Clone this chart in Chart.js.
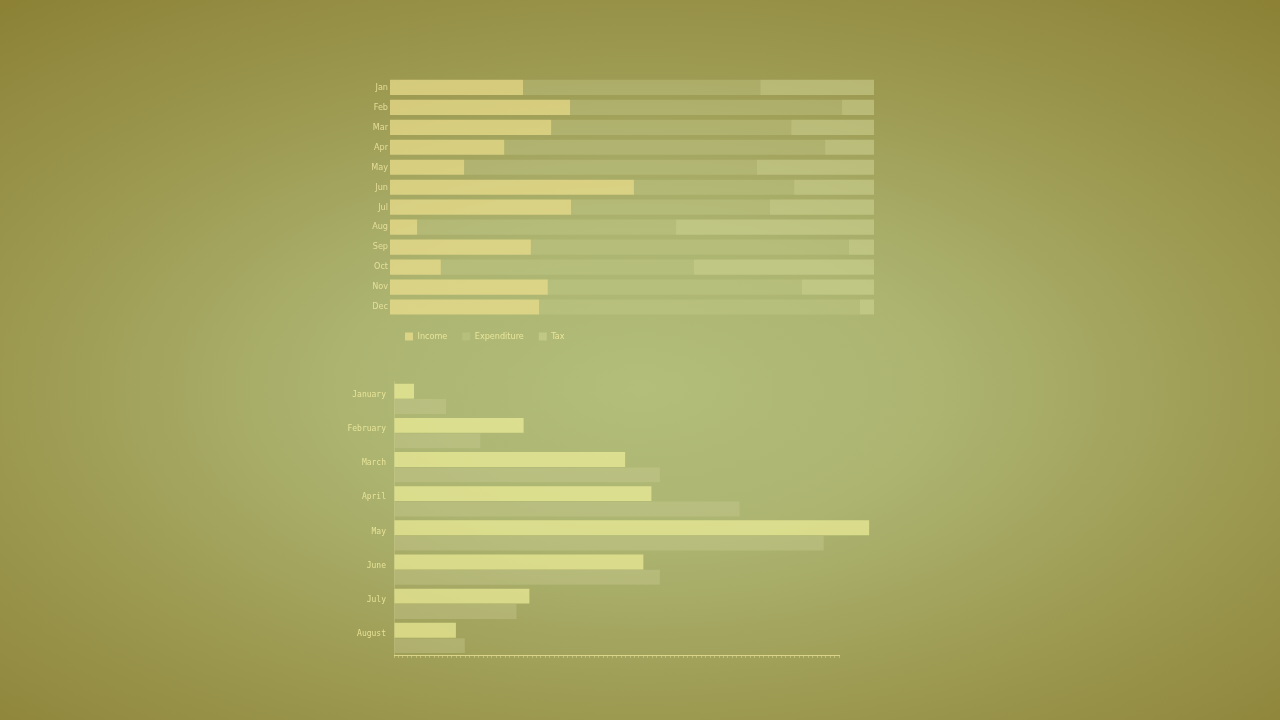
<!DOCTYPE html>
<html>
<head>
<meta charset="utf-8">
<title>Income, expenditure and tax</title>
<script src="https://cdn.jsdelivr.net/npm/chart.js@4.4.1/dist/chart.umd.min.js"></script>
<style>
  html, body {
    margin: 0;
    padding: 0;
    width: 1280px;
    height: 720px;
    overflow: hidden;
  }
  body {
    background: radial-gradient(ellipse 78% 72% at 50% 54%, #b2be7a 0%, #acb470 30%, #9d9a52 62%, #8b8034 100%);
  }
  .chart-box {
    position: absolute;
  }
  #shareBox {
    left: 360px;
    top: 70px;
    width: 520px;
    height: 281px;
  }
  #monthBox {
    left: 340px;
    top: 369px;
    width: 540px;
    height: 301px;
  }
</style>
</head>
<body>
<div class="chart-box" id="shareBox"><canvas id="shareChart"></canvas></div>
<div class="chart-box" id="monthBox"><canvas id="monthChart"></canvas></div>

<script>
// --- Data: top chart (share of each month, stacked to 100) ---
const shortMonths = ['Jan', 'Feb', 'Mar', 'Apr', 'May', 'Jun', 'Jul', 'Aug', 'Sep', 'Oct', 'Nov', 'Dec'];
const incomeShare = [27.5, 37.2, 33.3, 23.6, 15.3, 50.4, 37.4, 5.6, 29.1, 10.5, 32.6, 30.8];
const expenditureShare = [49.0, 56.2, 49.6, 66.3, 60.5, 33.1, 41.1, 53.5, 65.7, 52.3, 52.5, 66.3];
const taxShare = [23.5, 6.6, 17.1, 10.1, 24.2, 16.5, 21.5, 40.9, 5.2, 37.2, 14.9, 2.9];

// --- Data: bottom chart (income vs expenditure, Jan - Aug) ---
const longMonths = ['January', 'February', 'March', 'April', 'May', 'June', 'July', 'August'];
const incomeValues = [4.5, 29.1, 51.9, 57.8, 106.7, 56.0, 30.4, 13.9];
const expenditureValues = [11.7, 19.4, 59.7, 77.6, 96.5, 59.7, 27.5, 15.9];

document.addEventListener('DOMContentLoaded', () => {
  Chart.defaults.animation = false;
  Chart.defaults.responsive = true;
  Chart.defaults.maintainAspectRatio = false;

  const labelColor = 'rgba(242, 236, 160, 0.85)';
  const condensed = "'DejaVu Sans Condensed', 'Liberation Sans Narrow', 'DejaVu Sans', sans-serif";
  const mono = "'DejaVu Sans Mono', 'Liberation Mono', monospace";

  // --- Stacked share chart ---
  new Chart(document.getElementById('shareChart'), {
    type: 'bar',
    data: {
      labels: shortMonths,
      datasets: [
        {
          label: 'Income',
          data: incomeShare,
          backgroundColor: 'rgba(238, 224, 142, 0.7)'
        },
        {
          label: 'Expenditure',
          data: expenditureShare,
          backgroundColor: 'rgba(200, 206, 140, 0.36)'
        },
        {
          label: 'Tax',
          data: taxShare,
          backgroundColor: 'rgba(212, 216, 152, 0.5)'
        }
      ]
    },
    options: {
      indexAxis: 'y',
      layout: {
        padding: { top: 5.5, right: 6, left: 0, bottom: 0 }
      },
      datasets: {
        bar: {
          barPercentage: 1,
          categoryPercentage: 0.76
        }
      },
      plugins: {
        legend: {
          position: 'bottom',
          align: 'start',
          fullSize: false,
          labels: {
            boxWidth: 8,
            boxHeight: 8,
            padding: 15,
            color: labelColor,
            font: { family: condensed, size: 9 }
          }
        },
        tooltip: { enabled: false }
      },
      scales: {
        x: {
          display: false,
          stacked: true,
          min: 0,
          max: 100
        },
        y: {
          stacked: true,
          grid: { display: false, drawTicks: false },
          border: { display: false },
          ticks: {
            color: 'rgba(240, 230, 162, 0.85)',
            padding: 2,
            font: { family: condensed, size: 9 }
          },
          afterFit: scale => { scale.width = 30; }
        }
      }
    }
  });

  // --- Income vs expenditure chart ---
  new Chart(document.getElementById('monthChart'), {
    type: 'bar',
    data: {
      labels: longMonths,
      datasets: [
        {
          label: 'Income',
          data: incomeValues,
          backgroundColor: 'rgba(240, 240, 155, 0.68)',
          clip: false
        },
        {
          label: 'Expenditure',
          data: expenditureValues,
          backgroundColor: 'rgba(205, 205, 150, 0.36)',
          clip: false
        }
      ]
    },
    options: {
      indexAxis: 'y',
      layout: {
        padding: { top: 7, right: 40.7, left: 0, bottom: 11 }
      },
      datasets: {
        bar: {
          barPercentage: 0.97,
          categoryPercentage: 0.9
        }
      },
      plugins: {
        legend: { display: false },
        tooltip: { enabled: false }
      },
      scales: {
        x: {
          min: 0,
          max: 100,
          grid: {
            drawOnChartArea: false,
            drawTicks: true,
            tickLength: 3,
            color: 'rgba(232, 226, 150, 0.45)'
          },
          border: { color: 'rgba(232, 226, 150, 0.8)', width: 1 },
          ticks: {
            display: false,
            stepSize: 1
          },
          afterFit: scale => { scale.height = 4; }
        },
        y: {
          grid: { display: false, drawTicks: false },
          border: { color: 'rgba(225, 222, 160, 0.3)', width: 1 },
          ticks: {
            color: labelColor,
            padding: 8,
            labelOffset: -4,
            font: { family: mono, size: 8 }
          },
          afterFit: scale => { scale.width = 54; }
        }
      }
    }
  });
});
</script>
</body>
</html>
